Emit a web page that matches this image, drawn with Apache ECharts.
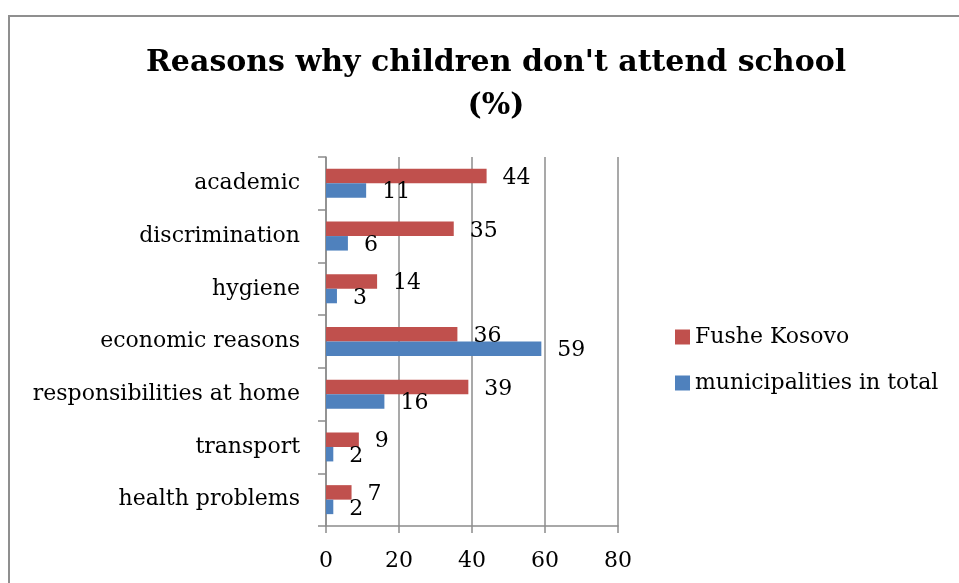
<!DOCTYPE html>
<html>
<head>
<meta charset="utf-8">
<title>Reasons why children don't attend school (%)</title>
<script src="https://cdn.jsdelivr.net/npm/echarts@6/dist/echarts.min.js"></script>
<style>
  html, body { margin: 0; padding: 0; background: #ffffff; }
  #chart { width: 959px; height: 583px; }
</style>
</head>
<body>
<div id="chart"></div>
<script>
// Reasons, listed bottom-to-top as drawn on the category axis
const reasons = [
  'health problems',
  'transport',
  'responsibilities at home',
  'economic reasons',
  'hygiene',
  'discrimination',
  'academic'
];

// Percentages per reason
const fusheKosovo = [7, 9, 39, 36, 14, 35, 44];
const municipalitiesTotal = [2, 2, 16, 59, 3, 6, 11];

const seriesNames = ['Fushe Kosovo', 'municipalities in total'];

// Value axis ticks
const xTicks = [0, 20, 40, 60, 80];

const FONT = 'DejaVu Serif';
const GRID_GRAY = '#8c8c8c';

const labelStyle = {
  show: true,
  position: 'right',
  distance: 16,
  offset: [0, 2],
  color: '#000000',
  fontFamily: FONT,
  fontSize: 22
};

const chart = echarts.init(document.getElementById('chart'), null, { renderer: 'canvas' });

chart.setOption({
  animation: false,
  backgroundColor: '#ffffff',
  title: {
    text: "Reasons why children don't attend school\n(%)",
    left: 491,
    top: 37,
    textAlign: 'center',
    textStyle: {
      fontFamily: FONT,
      fontWeight: 'bold',
      fontSize: 30,
      lineHeight: 43,
      color: '#000000'
    }
  },
  graphic: [{
    type: 'rect',
    shape: { x: 9, y: 16, width: 1000, height: 620 },
    style: { fill: 'none', stroke: '#8f8f8f', lineWidth: 2 },
    silent: true,
    z: -1
  }],
  legend: {
    data: seriesNames,
    orient: 'vertical',
    left: 675,
    top: 326,
    padding: 0,
    itemWidth: 15,
    itemHeight: 15,
    itemGap: 24,
    icon: 'rect',
    textStyle: {
      fontFamily: FONT,
      fontSize: 22,
      color: '#000000'
    }
  },
  grid: {
    left: 326,
    top: 157,
    right: 341,
    bottom: 57,
    containLabel: false
  },
  xAxis: {
    type: 'value',
    min: xTicks[0],
    max: xTicks[xTicks.length - 1],
    interval: xTicks[1] - xTicks[0],
    axisLine: { show: true, lineStyle: { color: GRID_GRAY, width: 1.5 } },
    axisTick: { show: true, length: 7, lineStyle: { color: GRID_GRAY, width: 1.5 } },
    splitLine: { show: true, lineStyle: { color: GRID_GRAY, width: 1.5 } },
    axisLabel: {
      margin: 24,
      color: '#000000',
      fontFamily: FONT,
      fontSize: 22
    }
  },
  yAxis: {
    type: 'category',
    data: reasons,
    axisLine: { show: true, lineStyle: { color: GRID_GRAY, width: 1.5 } },
    axisTick: { show: true, length: 8, lineStyle: { color: GRID_GRAY, width: 1.5 } },
    axisLabel: {
      margin: 26,
      color: '#000000',
      fontFamily: FONT,
      fontSize: 22
    }
  },
  series: [
    {
      name: seriesNames[0],
      type: 'bar',
      data: fusheKosovo,
      barGap: '0%',
      barCategoryGap: '45%',
      itemStyle: { color: '#c0504d' },
      label: labelStyle
    },
    {
      name: seriesNames[1],
      type: 'bar',
      data: municipalitiesTotal,
      barGap: '0%',
      barCategoryGap: '45%',
      itemStyle: { color: '#4f81bd' },
      label: labelStyle
    }
  ]
});
</script>
</body>
</html>
